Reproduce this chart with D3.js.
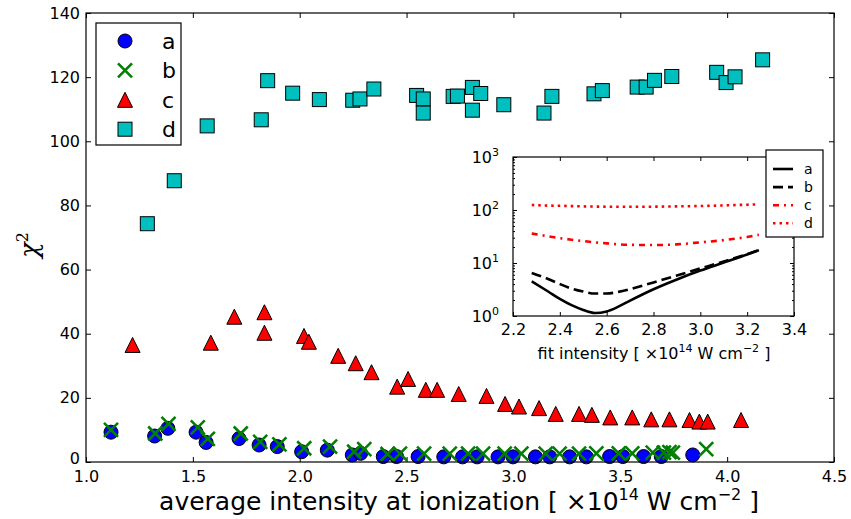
<!DOCTYPE html>
<html>
<head>
<meta charset="utf-8">
<script src="https://cdn.jsdelivr.net/npm/d3@7"></script>
<style>
body { margin: 0; background: #fff; }
svg text { font-family: "DejaVu Sans", sans-serif; fill: #000; }
</style>
</head>
<body>
<div id="chart"></div>
<script>
// ---- data ----
// a : circles
var aX = [1.117, 1.321, 1.383, 1.515, 1.562, 1.716, 1.810, 1.895, 2.009, 2.129, 2.246, 2.285, 2.391, 2.453, 2.554, 2.674, 2.762, 2.830, 2.928, 2.998, 3.103, 3.170, 3.263, 3.341, 3.450, 3.512, 3.609, 3.692, 3.839];
var aY = [9.3, 8.1, 10.5, 9.3, 6.1, 7.3, 5.3, 4.8, 3.2, 3.7, 2.2, 2.7, 1.7, 1.7, 1.7, 1.6, 1.6, 1.6, 1.6, 1.6, 1.6, 1.6, 1.6, 1.6, 1.7, 1.7, 1.7, 1.7, 2.2];
// b : crosses
var bX = [1.117, 1.324, 1.386, 1.523, 1.570, 1.724, 1.815, 1.905, 2.021, 2.142, 2.255, 2.302, 2.411, 2.469, 2.582, 2.702, 2.788, 2.858, 2.959, 3.037, 3.151, 3.216, 3.307, 3.388, 3.493, 3.556, 3.652, 3.704, 3.730, 3.746, 3.902];
var bY = [10.0, 8.9, 11.9, 10.8, 7.2, 8.9, 6.3, 5.5, 4.3, 4.8, 3.2, 4.0, 2.5, 2.6, 2.6, 2.6, 2.6, 2.6, 2.6, 2.6, 2.6, 2.6, 2.6, 2.7, 2.7, 2.7, 2.9, 2.9, 3.1, 2.9, 4.0];
// c : triangles
var cX = [1.218, 1.584, 1.694, 1.835, 1.835, 2.020, 2.043, 2.180, 2.262, 2.336, 2.456, 2.507, 2.590, 2.643, 2.744, 2.874, 2.961, 3.026, 3.120, 3.198, 3.307, 3.367, 3.453, 3.556, 3.645, 3.730, 3.824, 3.870, 3.909, 4.065];
var cY = [36.5, 37.2, 45.3, 46.7, 40.3, 39.3, 37.5, 33.1, 30.8, 28.0, 23.5, 25.9, 22.5, 22.5, 21.2, 20.6, 18.1, 17.3, 16.8, 15.0, 15.0, 14.7, 13.9, 13.9, 13.3, 13.3, 13.1, 12.6, 12.6, 13.1];
// d : squares
var dX = [1.287, 1.413, 1.567, 1.820, 1.850, 1.967, 2.092, 2.248, 2.282, 2.347, 2.547, 2.578, 2.578, 2.718, 2.738, 2.808, 2.847, 2.808, 2.955, 3.143, 3.180, 3.377, 3.416, 3.579, 3.621, 3.660, 3.741, 3.951, 3.995, 4.037, 4.166];
var dY = [74.3, 87.7, 104.8, 106.7, 118.9, 115.0, 113.0, 112.8, 113.2, 116.3, 114.3, 113.2, 108.8, 114.0, 114.1, 116.8, 114.9, 109.7, 111.4, 108.8, 114.0, 114.8, 115.8, 116.9, 116.9, 119.0, 120.2, 121.5, 118.3, 120.1, 125.4];

var xTicks = [1.0, 1.5, 2.0, 2.5, 3.0, 3.5, 4.0, 4.5];
var yTicks = [0, 20, 40, 60, 80, 100, 120, 140];

// inset curves (fit intensity vs chi^2)
var fitX = [2.28, 2.35, 2.40, 2.45, 2.50, 2.55, 2.60, 2.65, 2.70, 2.80, 2.90, 3.00, 3.10, 3.20, 3.25];
var fitA = [4.5, 2.9, 2.1, 1.6, 1.3, 1.14, 1.22, 1.5, 1.95, 3.2, 4.9, 7.2, 10.2, 14.5, 17.5];
var fitB = [6.5, 5.0, 4.0, 3.3, 2.9, 2.65, 2.65, 2.85, 3.2, 4.3, 5.8, 7.9, 10.7, 14.7, 17.5];
var fitC = [36, 32, 29.5, 27.5, 26, 24.5, 23.5, 22.5, 22, 21.8, 22.5, 24.5, 27, 31, 34];
var fitD = [124, 121, 120, 118.5, 117, 116, 115.5, 115, 115, 115.5, 117, 119, 122, 126, 128];
var insetXTicks = [2.2, 2.4, 2.6, 2.8, 3.0, 3.2, 3.4];
var insetYTicks = [1, 10, 100, 1000];

var labels = ["a", "b", "c", "d"];

// ---- layout ----
var W = 851, H = 519;
var margin = {top: 13, right: 17, bottom: 57, left: 86};
var inset = {left: 513, top: 157, right: 794, bottom: 316};

var svg = d3.select("#chart").append("svg")
    .attr("width", W).attr("height", H);

var x = d3.scaleLinear().domain([1, 4.5]).range([margin.left, W - margin.right]);
var y = d3.scaleLinear().domain([0, 140]).range([H - margin.bottom, margin.top]);

function zip(xs, ys) { return xs.map(function (v, i) { return [v, ys[i]]; }); }

// main axes (ticks point inward)
function styleAxis(g) {
    g.select(".domain").remove();
    g.selectAll("line").attr("stroke", "#000");
}
svg.append("g")
    .attr("transform", "translate(0," + y(0) + ")")
    .call(d3.axisBottom(x).tickValues(xTicks).tickFormat(d3.format(".1f")).tickSizeInner(-5).tickSizeOuter(0).tickPadding(9))
    .call(styleAxis)
    .selectAll("text").style("font-size", "16px");
svg.append("g")
    .attr("transform", "translate(0," + y(140) + ")")
    .call(d3.axisTop(x).tickValues(xTicks).tickFormat("").tickSizeInner(-5).tickSizeOuter(0))
    .call(styleAxis);
svg.append("g")
    .attr("transform", "translate(" + x(1) + ",0)")
    .call(d3.axisLeft(y).tickValues(yTicks).tickSizeInner(-5).tickSizeOuter(0).tickPadding(6))
    .call(styleAxis)
    .selectAll("text").style("font-size", "16px")
    .attr("dy", function (d) { return d === 0 ? "0.1em" : "0.32em"; });
svg.append("g")
    .attr("transform", "translate(" + x(4.5) + ",0)")
    .call(d3.axisRight(y).tickValues(yTicks).tickFormat("").tickSizeInner(-5).tickSizeOuter(0))
    .call(styleAxis);

// markers
var circleDraw = function (sel) {
    sel.append("circle").attr("r", 7).attr("fill", "#0000ff").attr("stroke", "#000").attr("stroke-width", 1);
};
var crossDraw = function (sel) {
    sel.append("path").attr("d", "M-7,-7L7,7M-7,7L7,-7").attr("stroke", "#008000").attr("stroke-width", 2.6).attr("fill", "none");
};
var triDraw = function (sel) {
    sel.append("path").attr("d", "M0,-7.5L7.5,7.5L-7.5,7.5Z").attr("fill", "#ff0000").attr("stroke", "#000").attr("stroke-width", 1);
};
var sqDraw = function (sel) {
    sel.append("rect").attr("x", -7).attr("y", -7).attr("width", 14).attr("height", 14)
        .attr("fill", "#00bfbf").attr("stroke", "#000").attr("stroke-width", 1);
};
var drawers = [circleDraw, crossDraw, triDraw, sqDraw];
var series = [zip(aX, aY), zip(bX, bY), zip(cX, cY), zip(dX, dY)];

series.forEach(function (data, k) {
    svg.append("g").selectAll("g")
        .data(data)
        .enter().append("g")
        .attr("transform", function (d) { return "translate(" + x(d[0]) + "," + y(d[1]) + ")"; })
        .call(drawers[k]);
});

// frame
svg.append("rect")
    .attr("x", x(1)).attr("y", y(140))
    .attr("width", x(4.5) - x(1)).attr("height", y(0) - y(140))
    .attr("fill", "none").attr("stroke", "#000").attr("stroke-width", 1.2);

// main legend
var leg = svg.append("g");
leg.append("rect").attr("x", 96).attr("y", 23).attr("width", 85).attr("height", 122)
    .attr("fill", "#fff").attr("stroke", "#000").attr("stroke-width", 1.2);
labels.forEach(function (lab, k) {
    var ry = 41 + k * 29.4;
    leg.append("g").attr("transform", "translate(125," + ry + ")").call(drawers[k]);
    leg.append("text").attr("x", 162).attr("y", ry).attr("dy", "0.35em")
        .style("font-size", "22px").text(lab);
});

// axis titles
var xt = svg.append("text").attr("x", 459).attr("y", 510).attr("text-anchor", "middle").style("font-size", "25px");
xt.append("tspan").text("average intensity at ionization [ ×10");
xt.append("tspan").attr("dy", -10).style("font-size", "16px").text("14");
xt.append("tspan").attr("dy", 10).text(" W cm");
xt.append("tspan").attr("dy", -10).style("font-size", "16px").text("−2");
xt.append("tspan").attr("dy", 10).text(" ]");

var yt = svg.append("text").attr("transform", "translate(38,245) rotate(-90)")
    .attr("text-anchor", "middle").style("font-family", "DejaVu Serif").style("font-size", "26px");
yt.append("tspan").style("font-style", "italic").text("χ");
yt.append("tspan").attr("dy", -10).style("font-size", "16px").text("2");

// ---- inset ----
var ix = d3.scaleLinear().domain([2.2, 3.4]).range([inset.left, inset.right]);
var iy = d3.scaleLog().domain([1, 1000]).range([inset.bottom, inset.top]);

var ig = svg.append("g");
ig.append("rect").attr("x", inset.left).attr("y", inset.top)
    .attr("width", inset.right - inset.left).attr("height", inset.bottom - inset.top)
    .attr("fill", "#fff");

var line = d3.line()
    .x(function (d) { return ix(d[0]); })
    .y(function (d) { return iy(d[1]); })
    .curve(d3.curveMonotoneX);

var fitStyles = [
    {data: fitA, color: "#000", dash: null},
    {data: fitB, color: "#000", dash: "10,5"},
    {data: fitC, color: "#ff0000", dash: "6,5,2,5"},
    {data: fitD, color: "#ff0000", dash: "2.5,4"}
];
fitStyles.forEach(function (s) {
    ig.append("path")
        .datum(zip(fitX, s.data))
        .attr("d", line)
        .attr("fill", "none")
        .attr("stroke", s.color)
        .attr("stroke-width", 2.6)
        .attr("stroke-dasharray", s.dash);
});

// inset ticks
var minor = [];
[1, 10, 100].forEach(function (dec) {
    for (var m = 2; m <= 9; m++) minor.push(dec * m);
});
function supLabel(sel) {
    sel.each(function (d) {
        var t = d3.select(this).text("");
        t.append("tspan").text("10");
        t.append("tspan").attr("dy", -7).style("font-size", "11px").text(Math.round(Math.log10(d)));
    });
}
ig.append("g").attr("transform", "translate(0," + inset.bottom + ")")
    .call(d3.axisBottom(ix).tickValues(insetXTicks).tickFormat(d3.format(".1f")).tickSizeInner(-4).tickSizeOuter(0).tickPadding(8))
    .call(styleAxis)
    .selectAll("text").style("font-size", "16px");
ig.append("g").attr("transform", "translate(0," + inset.top + ")")
    .call(d3.axisTop(ix).tickValues(insetXTicks).tickFormat("").tickSizeInner(-4).tickSizeOuter(0))
    .call(styleAxis);
ig.append("g").attr("transform", "translate(" + inset.left + ",0)")
    .call(d3.axisLeft(iy).tickValues(insetYTicks).tickSizeInner(-4).tickSizeOuter(0).tickPadding(14))
    .call(styleAxis)
    .selectAll("text").style("font-size", "16px").call(supLabel);
ig.append("g").attr("transform", "translate(" + inset.left + ",0)")
    .call(d3.axisLeft(iy).tickValues(minor).tickFormat("").tickSizeInner(-2).tickSizeOuter(0))
    .call(styleAxis);
ig.append("g").attr("transform", "translate(" + inset.right + ",0)")
    .call(d3.axisRight(iy).tickValues(insetYTicks).tickFormat("").tickSizeInner(-4).tickSizeOuter(0))
    .call(styleAxis);
ig.append("g").attr("transform", "translate(" + inset.right + ",0)")
    .call(d3.axisRight(iy).tickValues(minor).tickFormat("").tickSizeInner(-2).tickSizeOuter(0))
    .call(styleAxis);

ig.append("rect").attr("x", inset.left).attr("y", inset.top)
    .attr("width", inset.right - inset.left).attr("height", inset.bottom - inset.top)
    .attr("fill", "none").attr("stroke", "#000").attr("stroke-width", 1.2);

var it = ig.append("text").attr("x", 654).attr("y", 359).attr("text-anchor", "middle").style("font-size", "16px");
it.append("tspan").text("fit intensity [ ×10");
it.append("tspan").attr("dy", -7).style("font-size", "11px").text("14");
it.append("tspan").attr("dy", 7).text(" W cm");
it.append("tspan").attr("dy", -7).style("font-size", "11px").text("−2");
it.append("tspan").attr("dy", 7).text(" ]");

// inset legend
var il = svg.append("g");
il.append("rect").attr("x", 766).attr("y", 150).attr("width", 57).attr("height", 87)
    .attr("fill", "#fff").attr("stroke", "#000").attr("stroke-width", 1.2);
labels.forEach(function (lab, k) {
    var ry = 169 + k * 18.1;
    il.append("line").attr("x1", 773).attr("x2", 793).attr("y1", ry).attr("y2", ry)
        .attr("stroke", fitStyles[k].color).attr("stroke-width", 2.6)
        .attr("stroke-dasharray", fitStyles[k].dash);
    il.append("text").attr("x", 804).attr("y", ry).attr("dy", "0.35em")
        .style("font-size", "14px").text(lab);
});
</script>
</body>
</html>
